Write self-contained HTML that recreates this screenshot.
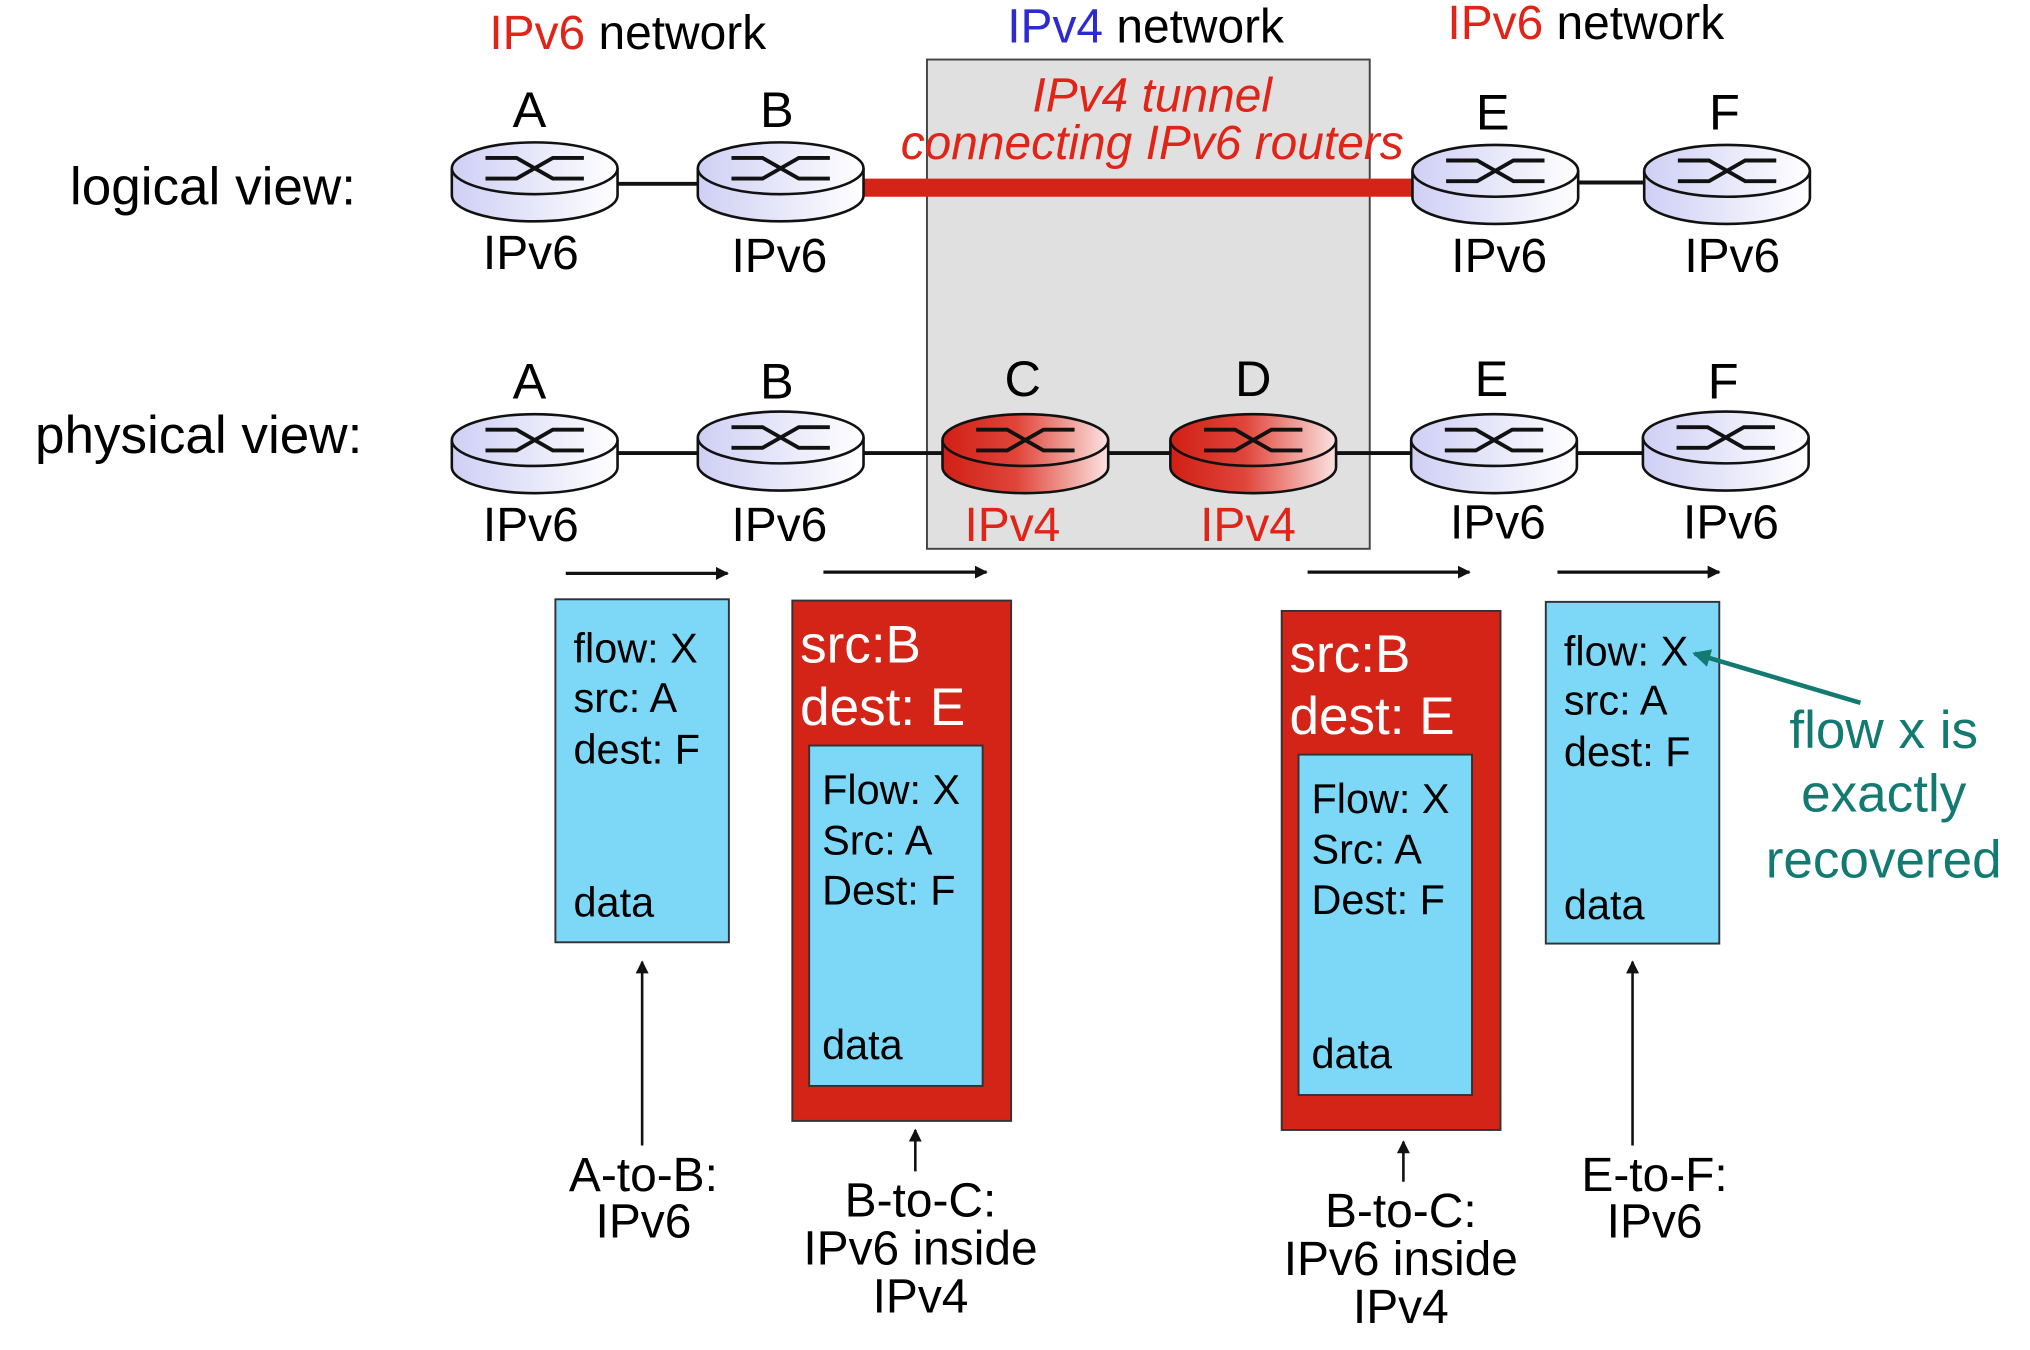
<!DOCTYPE html>
<html><head><meta charset="utf-8"><style>
html,body{margin:0;padding:0;background:#fff;}
svg{display:block;}
text{font-family:"Liberation Sans",Arial,sans-serif;}
</style></head><body>
<svg width="2030" height="1350" viewBox="0 0 1568 1043" preserveAspectRatio="none" xmlns="http://www.w3.org/2000/svg">
<defs>
<linearGradient id="gw" x1="0" x2="1" y1="0" y2="0"><stop offset="0" stop-color="#cfcff5"/><stop offset="1" stop-color="#ffffff"/></linearGradient>
<linearGradient id="gr" x1="0" x2="1" y1="0" y2="0"><stop offset="0" stop-color="#d11f14"/><stop offset="0.45" stop-color="#e0453a"/><stop offset="1" stop-color="#fbe3e1"/></linearGradient>
<g id="sym"><path d="M-38,-8 H-14 L14,8 H38 M-38,8 H-14 L14,-8 H38" fill="none" stroke="#111" stroke-width="3"/></g>
<g id="rw"><path d="M-64,0 V21 A64,20 0 0 0 64,21 V0" fill="url(#gw)" stroke="#111" stroke-width="2"/><ellipse cx="0" cy="0" rx="64" ry="20" fill="url(#gw)" stroke="#111" stroke-width="2"/><use href="#sym"/></g>
<g id="rr"><path d="M-64,0 V21 A64,20 0 0 0 64,21 V0" fill="url(#gr)" stroke="#111" stroke-width="2"/><ellipse cx="0" cy="0" rx="64" ry="20" fill="url(#gr)" stroke="#111" stroke-width="2"/><use href="#sym"/></g>
<marker id="ah" markerWidth="10" markerHeight="10" refX="9" refY="5" orient="auto" markerUnits="userSpaceOnUse"><path d="M0,0 L10,5 L0,10 z" fill="#111"/></marker>
<marker id="at" markerWidth="14" markerHeight="14" refX="12" refY="7" orient="auto" markerUnits="userSpaceOnUse"><path d="M0,0 L14,7 L0,14 z" fill="#137a72"/></marker>
</defs>

<rect x="716" y="46" width="342" height="378" fill="#e0e0e0" stroke="#444" stroke-width="1.5"/>

<g font-size="37">
<text x="378" y="38"><tspan fill="#e02418">IPv6</tspan> network</text>
<text x="778" y="33"><tspan fill="#2b2bd0">IPv4</tspan> network</text>
<text x="1118" y="30"><tspan fill="#e02418">IPv6</tspan> network</text>
</g>
<text x="54" y="158" font-size="41">logical view:</text>
<text x="27" y="350" font-size="41">physical view:</text>

<line x1="477" y1="142" x2="540" y2="142" stroke="#111" stroke-width="3"/>
<rect x="667" y="138" width="425" height="14" fill="#d42418"/>
<line x1="1219" y1="141" x2="1270" y2="141" stroke="#111" stroke-width="3"/>
<g font-size="37" fill="#e02418" font-style="italic" text-anchor="middle">
<text x="890" y="86">IPv4 tunnel</text>
<text x="890" y="123">connecting IPv6 routers</text>
</g>

<line x1="477" y1="350" x2="990" y2="350" stroke="#111" stroke-width="3"/>
<line x1="1030" y1="350" x2="1270" y2="350" stroke="#111" stroke-width="3"/>

<use href="#rw" x="413" y="130"/>
<use href="#rw" x="603" y="130"/>
<use href="#rw" x="1155" y="132"/>
<use href="#rw" x="1334" y="132"/>
<use href="#rw" x="413" y="340"/>
<use href="#rw" x="603" y="338"/>
<use href="#rr" x="792" y="340"/>
<use href="#rr" x="968" y="340"/>
<use href="#rw" x="1154" y="340"/>
<use href="#rw" x="1333" y="338"/>

<g font-size="39" text-anchor="middle">
<text x="409" y="98">A</text><text x="600" y="98">B</text><text x="1153" y="100">E</text><text x="1332" y="100">F</text>
<text x="409" y="308">A</text><text x="600" y="308">B</text><text x="790" y="306">C</text><text x="968" y="306">D</text><text x="1152" y="306">E</text><text x="1331" y="308">F</text>
</g>
<g font-size="37" text-anchor="middle">
<text x="410" y="208">IPv6</text><text x="602" y="210">IPv6</text><text x="1158" y="210">IPv6</text><text x="1338" y="210">IPv6</text>
<text x="410" y="418">IPv6</text><text x="602" y="418">IPv6</text><text x="1157" y="416">IPv6</text><text x="1337" y="416">IPv6</text>
<text x="782" y="418" fill="#e02418">IPv4</text><text x="964" y="418" fill="#e02418">IPv4</text>
</g>

<g stroke="#111" stroke-width="2.5" marker-end="url(#ah)">
<line x1="437" y1="443" x2="562" y2="443"/>
<line x1="636" y1="442" x2="762" y2="442"/>
<line x1="1010" y1="442" x2="1135" y2="442"/>
<line x1="1203" y1="442" x2="1328" y2="442"/>
</g>

<rect x="429" y="463" width="134" height="265" fill="#7dd8f8" stroke="#333" stroke-width="1.5"/>
<g font-size="32"><text x="443" y="512">flow: X</text><text x="443" y="550">src: A</text><text x="443" y="590">dest: F</text><text x="443" y="708">data</text></g>

<rect x="612" y="464" width="169" height="402" fill="#d42418" stroke="#333" stroke-width="1.5"/>
<g font-size="41" fill="#fff"><text x="618" y="512">src:B</text><text x="618" y="560">dest: E</text></g>
<rect x="625" y="576" width="134" height="263" fill="#7dd8f8" stroke="#333" stroke-width="1.5"/>
<g font-size="32"><text x="635" y="621">Flow: X</text><text x="635" y="660">Src: A</text><text x="635" y="699">Dest: F</text><text x="635" y="818">data</text></g>

<rect x="990" y="472" width="169" height="401" fill="#d42418" stroke="#333" stroke-width="1.5"/>
<g font-size="41" fill="#fff"><text x="996" y="519">src:B</text><text x="996" y="567">dest: E</text></g>
<rect x="1003" y="583" width="134" height="263" fill="#7dd8f8" stroke="#333" stroke-width="1.5"/>
<g font-size="32"><text x="1013" y="628">Flow: X</text><text x="1013" y="667">Src: A</text><text x="1013" y="706">Dest: F</text><text x="1013" y="825">data</text></g>

<rect x="1194" y="465" width="134" height="264" fill="#7dd8f8" stroke="#333" stroke-width="1.5"/>
<g font-size="32"><text x="1208" y="514">flow: X</text><text x="1208" y="552">src: A</text><text x="1208" y="592">dest: F</text><text x="1208" y="710">data</text></g>

<line x1="1437" y1="543" x2="1309" y2="505" stroke="#137a72" stroke-width="3.5" marker-end="url(#at)"/>
<g font-size="41" fill="#137a72" text-anchor="middle"><text x="1455" y="578">flow x is</text><text x="1455" y="627">exactly</text><text x="1455" y="678">recovered</text></g>

<g stroke="#111" stroke-width="2" marker-end="url(#ah)">
<line x1="496" y1="885" x2="496" y2="743"/>
<line x1="707" y1="905" x2="707" y2="873"/>
<line x1="1084" y1="913" x2="1084" y2="882"/>
<line x1="1261" y1="885" x2="1261" y2="743"/>
</g>
<g font-size="37" text-anchor="middle">
<text x="497" y="920">A-to-B:</text><text x="497" y="956">IPv6</text>
<text x="711" y="940">B-to-C:</text><text x="711" y="977">IPv6 inside</text><text x="711" y="1014">IPv4</text>
<text x="1082" y="948">B-to-C:</text><text x="1082" y="985">IPv6 inside</text><text x="1082" y="1022">IPv4</text>
<text x="1278" y="920">E-to-F:</text><text x="1278" y="956">IPv6</text>
</g>
</svg>
</body></html>
